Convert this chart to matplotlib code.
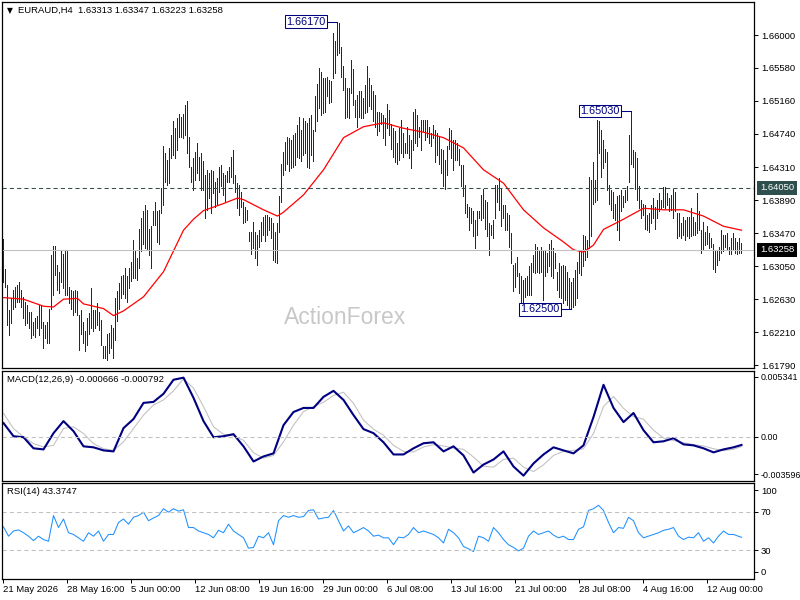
import matplotlib
matplotlib.use("Agg")
import matplotlib.pyplot as plt
import numpy as np
from matplotlib.transforms import blended_transform_factory

plt.rcParams["font.family"] = ["Liberation Sans", "DejaVu Sans"]

# H4 bars, high / low (oldest first)
highs = [
    1.6340, 1.6302, 1.6281, 1.6249, 1.6264, 1.6275, 1.6279, 1.6281, 1.6285, 1.6275,
    1.6266, 1.6260, 1.6256, 1.6247, 1.6247, 1.6234, 1.6239, 1.6241, 1.6256, 1.6256,
    1.6234, 1.6230, 1.6234, 1.6251, 1.6319, 1.6331, 1.6331, 1.6307, 1.6298, 1.6324,
    1.6320, 1.6326, 1.6324, 1.6279, 1.6275, 1.6273, 1.6275, 1.6273, 1.6243, 1.6249,
    1.6234, 1.6222, 1.6239, 1.6245, 1.6277, 1.6249, 1.6249, 1.6258, 1.6247, 1.6237,
    1.6203, 1.6203, 1.6218, 1.6220, 1.6230, 1.6226, 1.6264, 1.6273, 1.6283, 1.6292,
    1.6294, 1.6303, 1.6292, 1.6303, 1.6311, 1.6339, 1.6324, 1.6315, 1.6353, 1.6366,
    1.6375, 1.6383, 1.6377, 1.6353, 1.6356, 1.6375, 1.6387, 1.6375, 1.6377, 1.6405,
    1.6458, 1.6449, 1.6441, 1.6456, 1.6473, 1.6490, 1.6481, 1.6494, 1.6499, 1.6496,
    1.6499, 1.6511, 1.6516, 1.6470, 1.6432, 1.6443, 1.6451, 1.6462, 1.6445, 1.6449,
    1.6439, 1.6421, 1.6428, 1.6424, 1.6428, 1.6426, 1.6413, 1.6417, 1.6432, 1.6434,
    1.6424, 1.6421, 1.6426, 1.6432, 1.6445, 1.6453, 1.6421, 1.6411, 1.6409, 1.6400,
    1.6387, 1.6381, 1.6377, 1.6349, 1.6349, 1.6362, 1.6349, 1.6345, 1.6351, 1.6362,
    1.6368, 1.6371, 1.6371, 1.6368, 1.6366, 1.6360, 1.6349, 1.6360, 1.6394, 1.6436,
    1.6451, 1.6464, 1.6470, 1.6468, 1.6466, 1.6473, 1.6475, 1.6485, 1.6496, 1.6479,
    1.6494, 1.6490, 1.6488, 1.6494, 1.6498, 1.6479, 1.6522, 1.6538, 1.6558, 1.6553,
    1.6545, 1.6545, 1.6547, 1.6543, 1.6541, 1.6602, 1.6592, 1.6617, 1.6615, 1.6585,
    1.6560, 1.6545, 1.6532, 1.6532, 1.6568, 1.6556, 1.6517, 1.6524, 1.6528, 1.6528,
    1.6519, 1.6536, 1.6560, 1.6545, 1.6536, 1.6528, 1.6524, 1.6502, 1.6502, 1.6500,
    1.6498, 1.6494, 1.6512, 1.6504, 1.6487, 1.6481, 1.6477, 1.6462, 1.6481, 1.6492,
    1.6475, 1.6462, 1.6483, 1.6472, 1.6466, 1.6502, 1.6506, 1.6498, 1.6483, 1.6492,
    1.6492, 1.6492, 1.6492, 1.6483, 1.6475, 1.6485, 1.6479, 1.6475, 1.6470, 1.6455,
    1.6453, 1.6441, 1.6458, 1.6481, 1.6479, 1.6466, 1.6466, 1.6462, 1.6455, 1.6434,
    1.6434, 1.6409, 1.6385, 1.6381, 1.6379, 1.6375, 1.6364, 1.6375, 1.6375, 1.6396,
    1.6404, 1.6390, 1.6387, 1.6360, 1.6358, 1.6364, 1.6409, 1.6409, 1.6417, 1.6404,
    1.6383, 1.6383, 1.6373, 1.6370, 1.6347, 1.6307, 1.6309, 1.6317, 1.6296, 1.6292,
    1.6288, 1.6290, 1.6292, 1.6305, 1.6309, 1.6319, 1.6334, 1.6330, 1.6324, 1.6330,
    1.6324, 1.6324, 1.6322, 1.6334, 1.6339, 1.6328, 1.6322, 1.6298, 1.6309, 1.6305,
    1.6307, 1.6305, 1.6298, 1.6290, 1.6285, 1.6290, 1.6300, 1.6311, 1.6324, 1.6326,
    1.6345, 1.6343, 1.6339, 1.6419, 1.6415, 1.6438, 1.6415, 1.6492, 1.6490, 1.6479,
    1.6466, 1.6455, 1.6451, 1.6409, 1.6402, 1.6400, 1.6385, 1.6394, 1.6396, 1.6402,
    1.6394, 1.6402, 1.6407, 1.6472, 1.6503, 1.6453, 1.6451, 1.6443, 1.6407, 1.6390,
    1.6385, 1.6383, 1.6371, 1.6373, 1.6383, 1.6392, 1.6381, 1.6390, 1.6398, 1.6390,
    1.6406, 1.6406, 1.6398, 1.6392, 1.6396, 1.6403, 1.6400, 1.6373, 1.6373, 1.6360,
    1.6368, 1.6364, 1.6368, 1.6368, 1.6379, 1.6368, 1.6362, 1.6398, 1.6375, 1.6351,
    1.6362, 1.6349, 1.6356, 1.6347, 1.6341, 1.6334, 1.6326, 1.6324, 1.6330, 1.6351,
    1.6345, 1.6345, 1.6347, 1.6330, 1.6341, 1.6347, 1.6341, 1.6336, 1.6341, 1.6335,
]
lows = [
    1.6285, 1.6279, 1.6230, 1.6217, 1.6232, 1.6251, 1.6253, 1.6260, 1.6260, 1.6253,
    1.6239, 1.6230, 1.6232, 1.6226, 1.6213, 1.6217, 1.6215, 1.6226, 1.6217, 1.6226,
    1.6201, 1.6213, 1.6207, 1.6207, 1.6251, 1.6268, 1.6294, 1.6275, 1.6271, 1.6285,
    1.6277, 1.6268, 1.6268, 1.6258, 1.6251, 1.6243, 1.6247, 1.6243, 1.6198, 1.6219,
    1.6207, 1.6197, 1.6205, 1.6219, 1.6226, 1.6223, 1.6226, 1.6230, 1.6224, 1.6205,
    1.6188, 1.6188, 1.6186, 1.6194, 1.6201, 1.6188, 1.6211, 1.6235, 1.6251, 1.6264,
    1.6269, 1.6264, 1.6260, 1.6277, 1.6286, 1.6290, 1.6290, 1.6288, 1.6303, 1.6324,
    1.6334, 1.6328, 1.6326, 1.6319, 1.6303, 1.6358, 1.6358, 1.6336, 1.6334, 1.6373,
    1.6383, 1.6413, 1.6409, 1.6411, 1.6443, 1.6447, 1.6443, 1.6453, 1.6470, 1.6470,
    1.6468, 1.6473, 1.6449, 1.6432, 1.6413, 1.6402, 1.6415, 1.6424, 1.6415, 1.6402,
    1.6402, 1.6366, 1.6377, 1.6392, 1.6373, 1.6398, 1.6381, 1.6385, 1.6400, 1.6407,
    1.6396, 1.6388, 1.6413, 1.6413, 1.6419, 1.6411, 1.6400, 1.6379, 1.6371, 1.6381,
    1.6360, 1.6362, 1.6364, 1.6337, 1.6320, 1.6328, 1.6315, 1.6307, 1.6330, 1.6337,
    1.6345, 1.6337, 1.6345, 1.6351, 1.6341, 1.6313, 1.6311, 1.6309, 1.6349, 1.6387,
    1.6422, 1.6428, 1.6436, 1.6426, 1.6430, 1.6432, 1.6434, 1.6445, 1.6443, 1.6439,
    1.6447, 1.6449, 1.6432, 1.6430, 1.6447, 1.6439, 1.6477, 1.6490, 1.6507, 1.6498,
    1.6500, 1.6502, 1.6522, 1.6513, 1.6515, 1.6545, 1.6551, 1.6575, 1.6577, 1.6547,
    1.6530, 1.6494, 1.6496, 1.6494, 1.6526, 1.6511, 1.6496, 1.6483, 1.6496, 1.6494,
    1.6494, 1.6500, 1.6502, 1.6509, 1.6505, 1.6490, 1.6483, 1.6472, 1.6477, 1.6487,
    1.6468, 1.6460, 1.6481, 1.6472, 1.6455, 1.6445, 1.6438, 1.6436, 1.6441, 1.6449,
    1.6445, 1.6449, 1.6449, 1.6443, 1.6430, 1.6453, 1.6462, 1.6458, 1.6470, 1.6453,
    1.6477, 1.6466, 1.6470, 1.6462, 1.6458, 1.6468, 1.6438, 1.6447, 1.6436, 1.6424,
    1.6407, 1.6404, 1.6421, 1.6455, 1.6443, 1.6428, 1.6441, 1.6441, 1.6434, 1.6407,
    1.6394, 1.6373, 1.6368, 1.6351, 1.6360, 1.6343, 1.6328, 1.6345, 1.6366, 1.6364,
    1.6366, 1.6353, 1.6343, 1.6319, 1.6345, 1.6341, 1.6366, 1.6387, 1.6377, 1.6356,
    1.6366, 1.6351, 1.6351, 1.6330, 1.6309, 1.6273, 1.6279, 1.6292, 1.6271, 1.6258,
    1.6256, 1.6266, 1.6268, 1.6268, 1.6268, 1.6298, 1.6296, 1.6298, 1.6296, 1.6298,
    1.6262, 1.6292, 1.6298, 1.6305, 1.6292, 1.6290, 1.6303, 1.6275, 1.6266, 1.6264,
    1.6258, 1.6262, 1.6255, 1.6252, 1.6250, 1.6253, 1.6255, 1.6265, 1.6296, 1.6294,
    1.6305, 1.6313, 1.6317, 1.6328, 1.6343, 1.6385, 1.6387, 1.6390, 1.6449, 1.6419,
    1.6430, 1.6438, 1.6402, 1.6385, 1.6377, 1.6366, 1.6364, 1.6351, 1.6339, 1.6375,
    1.6381, 1.6387, 1.6390, 1.6413, 1.6436, 1.6432, 1.6404, 1.6390, 1.6379, 1.6366,
    1.6371, 1.6353, 1.6351, 1.6349, 1.6360, 1.6366, 1.6353, 1.6366, 1.6375, 1.6379,
    1.6381, 1.6379, 1.6383, 1.6375, 1.6377, 1.6366, 1.6375, 1.6341, 1.6343, 1.6341,
    1.6345, 1.6339, 1.6343, 1.6341, 1.6343, 1.6345, 1.6345, 1.6347, 1.6351, 1.6322,
    1.6326, 1.6332, 1.6334, 1.6328, 1.6330, 1.6302, 1.6298, 1.6307, 1.6313, 1.6322,
    1.6324, 1.6330, 1.6326, 1.6320, 1.6320, 1.6326, 1.6322, 1.6320, 1.6322, 1.6322,
]

# red moving average, sampled at these bar numbers
ma_idx = [0, 10, 20, 25, 30, 37, 40, 45, 50, 55, 60, 70, 80, 90, 95, 100, 110, 117,
          120, 130, 137, 140, 150, 160, 170, 180, 190, 200, 210, 220, 230, 240, 250,
          260, 270, 280, 285, 290, 295, 300, 310, 320, 330, 340, 350, 360, 369]
ma_vals = [1.6265, 1.6263, 1.6254, 1.6253, 1.6263, 1.6264, 1.6257, 1.6254, 1.6251,
           1.6242, 1.6248, 1.6266, 1.6298, 1.6351, 1.6365, 1.6376, 1.6385, 1.6392,
           1.6390, 1.6377, 1.6369, 1.6374, 1.6396, 1.6428, 1.6469, 1.6483, 1.6488,
           1.6481, 1.6476, 1.6469, 1.6456, 1.6428, 1.6411, 1.6377, 1.6354, 1.6336,
           1.6326, 1.6323, 1.6332, 1.6352, 1.6365, 1.6379, 1.6377, 1.6377, 1.6369,
           1.6356, 1.6351]

# MACD(12,26,9), every 5 bars plus the last bar
macd_main = [
    0.00111, 0.00004, -0.00004, -0.00094, -0.00103, 0.00029, 0.00127, 0.00045,
    -0.00078, -0.00086, -0.00111, -0.00119, 0.00070, 0.00144, 0.00275, 0.00283,
    0.00349, 0.00463, 0.00480, 0.00316, 0.00127, -0.00004, 0.00004, 0.00021,
    -0.00078, -0.00201, -0.00160, -0.00135, 0.00094, 0.00201, 0.00234, 0.00234,
    0.00324, 0.00373, 0.00299, 0.00176, 0.00062, 0.00029, -0.00045, -0.00144,
    -0.00144, -0.00094, -0.00053, -0.00045, -0.00119, -0.00078, -0.00152, -0.00291,
    -0.00226, -0.00185, -0.00119, -0.00242, -0.00316, -0.00217, -0.00144, -0.00086,
    -0.00111, -0.00135, -0.00070, 0.00160, 0.00422, 0.00234, 0.00119, 0.00193,
    0.00053, -0.00045, -0.00037, -0.00012, -0.00062, -0.00070, -0.00094, -0.00127,
    -0.00103, -0.00086, -0.000666,
]
macd_signal = [
    0.00190, 0.00067, -0.00001, -0.00056, -0.00083, -0.00070, 0.00067, 0.00081,
    0.00026, -0.00056, -0.00097, -0.00111, -0.00042, 0.00067, 0.00176, 0.00258,
    0.00299, 0.00373, 0.00471, 0.00395, 0.00245, 0.00081, 0.00020, 0.00007,
    -0.00029, -0.00130, -0.00174, -0.00152, -0.00042, 0.00094, 0.00204, 0.00245,
    0.00280, 0.00335, 0.00362, 0.00272, 0.00135, 0.00061, 0.00012, -0.00070,
    -0.00119, -0.00124, -0.00083, -0.00064, -0.00075, -0.00092, -0.00102, -0.00165,
    -0.00239, -0.00247, -0.00184, -0.00174, -0.00247, -0.00283, -0.00228, -0.00152,
    -0.00119, -0.00111, -0.00097, 0.00026, 0.00245, 0.00327, 0.00231, 0.00163,
    0.00143, 0.00053, -0.00010, -0.00031, -0.00048, -0.00064, -0.00075, -0.00097,
    -0.00113, -0.00102, -0.000792,
]

# RSI(14), every 2.5 bars plus the last bar
rsi_vals = [
    54.3, 44.6, 50.0, 51.1, 48.2, 44.6, 40.0, 44.6, 41.1, 39.3,
    66.1, 53.6, 62.5, 48.2, 46.4, 42.9, 39.3, 48.2, 44.6, 50.0,
    39.3, 46.4, 46.4, 58.9, 62.5, 57.1, 64.3, 66.1, 69.6, 60.7,
    63.6, 66.1, 73.2, 69.6, 73.2, 70.7, 72.1, 53.6, 53.6, 50.0,
    48.2, 46.4, 42.9, 50.7, 48.2, 57.1, 50.0, 46.4, 42.9, 32.1,
    32.9, 44.6, 42.9, 48.2, 35.7, 60.7, 66.1, 64.3, 66.1, 64.3,
    65.0, 71.4, 72.1, 62.5, 63.6, 64.3, 71.4, 60.7, 50.0, 55.3,
    48.2, 50.7, 53.6, 50.0, 44.6, 45.7, 42.9, 42.9, 35.7, 43.6,
    42.9, 46.4, 53.6, 48.2, 50.0, 48.2, 46.4, 42.9, 37.5, 51.8,
    48.2, 42.9, 33.9, 31.4, 28.6, 44.6, 42.9, 39.3, 53.6, 48.2,
    41.1, 35.7, 32.9, 29.3, 32.1, 44.6, 50.0, 46.4, 48.2, 50.0,
    45.7, 42.9, 44.6, 41.1, 41.1, 51.8, 54.3, 71.4, 73.2, 76.8,
    71.4, 58.9, 48.2, 53.6, 52.8, 64.3, 60.7, 48.2, 42.9, 44.6,
    46.4, 48.2, 50.7, 51.8, 53.6, 44.6, 41.1, 43.6, 42.9, 48.2,
    39.3, 42.9, 37.5, 44.6, 50.0, 46.4, 46.4, 44.6, 43.4,
]

price_ticks = [1.66000, 1.65580, 1.65160, 1.64740, 1.64310, 1.63890,
               1.63470, 1.63050, 1.62630, 1.62210, 1.61790]
date_labels = ["21 May 2026", "28 May 16:00", "5 Jun 00:00", "12 Jun 08:00",
               "19 Jun 16:00", "29 Jun 00:00", "6 Jul 08:00", "13 Jul 16:00",
               "21 Jul 00:00", "28 Jul 08:00", "4 Aug 16:00", "12 Aug 00:00"]
swing_idx = [167, 314, 284]
swing_px = [1.66170, 1.65030, 1.62500]
level_price = 1.64050
last_price = 1.63258

assert len(highs) == len(lows)
assert len(ma_idx) == len(ma_vals)

BAR = "#0B304E"
FS = 6.8
W, H = 800, 600


def box(top, bottom):
    return [2 / W, 1 - bottom / H, 752 / W, (bottom - top) / H]


def fxy(x, y):
    return x / W, 1 - y / H


fig = plt.figure(figsize=(8, 6), dpi=100)
ax_p = fig.add_axes(box(2, 368))
ax_m = fig.add_axes(box(371, 481))
ax_r = fig.add_axes(box(483, 579))

xlim = (-0.75, 375.25)
for ax in (ax_p, ax_m, ax_r):
    ax.set_xlim(*xlim)
    for s in ax.spines.values():
        s.set_linewidth(0.9)
        s.set_color("black")
    ax.yaxis.tick_right()
    ax.tick_params(axis="y", length=3, width=0.7, labelsize=FS, pad=2)

# ---- price panel ----
x = np.arange(len(highs))
ax_p.vlines(x, lows, highs, colors=BAR, linewidth=0.68, antialiased=False)
ax_p.plot(ma_idx, ma_vals, color="#FF0000", lw=0.9)
ax_p.axhline(level_price, color="#2F4F4F", lw=0.75, ls=(0, (4, 3)))
ax_p.axhline(last_price, color="#C0C0C0", lw=0.75)
ax_p.set_ylim(1.61752, 1.66421)
ax_p.set_xticks([])
ax_p.set_yticks(price_ticks)
ax_p.set_yticklabels([f"{v:.5f}" for v in price_ticks])

for i, p in zip(swing_idx, swing_px):
    ax_p.plot([i - 5.5, i], [p, p], color="#000080", lw=0.75)
    ax_p.text(i - 6.1, p, f"{p:.5f}", ha="right", va="center", fontsize=7.8,
              color="#000080",
              bbox=dict(boxstyle="square,pad=0.12", fc="white", ec="#000080", lw=0.75))

tr = blended_transform_factory(ax_p.transAxes, ax_p.transData)
ax_p.text(1.008, level_price, f"{level_price:.5f}", transform=tr, ha="left",
          va="center", fontsize=FS, color="white", clip_on=False,
          bbox=dict(boxstyle="square,pad=0.3", fc="#2F4F4F", ec="none"))
ax_p.text(1.008, last_price, f"{last_price:.5f}", transform=tr, ha="left",
          va="center", fontsize=FS, color="white", clip_on=False,
          bbox=dict(boxstyle="square,pad=0.3", fc="black", ec="none"))

ax_p.text(*fxy(345, 317), "ActionForex", transform=fig.transFigure, fontsize=16.5,
          color="#C8C8C8", ha="center", va="center", zorder=0)

# ---- MACD panel ----
mx = list(range(0, 366, 5)) + [369]
ax_m.plot(mx, macd_signal, color="#C0C0C0", lw=0.75)
ax_m.plot(mx, macd_main, color="#000080", lw=1.5)
ax_m.axhline(0, color="#C0C0C0", lw=0.75, ls=(0, (4, 3)))
ax_m.set_ylim(-0.003596, 0.005341)
ax_m.set_xticks([])
ax_m.set_yticks([0.004854, 0.0, -0.003028])
ax_m.set_yticklabels(["0.005341", "0.00", "-0.003596"])
ax_m.tick_params(axis="y", labelsize=6.4, pad=1.5)

# ---- RSI panel ----
rx = list(np.arange(0, 370, 2.5)) + [369]
ax_r.plot(rx, rsi_vals, color="#1E90FF", lw=0.75)
for lvl in (70, 30):
    ax_r.axhline(lvl, color="#C0C0C0", lw=0.75, ls=(0, (4, 3)))
ax_r.set_ylim(0, 100)
ax_r.set_yticks([92.7, 70, 30, 7.3])
ax_r.set_yticklabels(["100", "70", "30", "0"])
ax_r.set_xticks(range(0, 353, 32))
ax_r.set_xticklabels(date_labels)
ax_r.tick_params(axis="x", length=3, width=0.7, labelsize=FS, pad=1.5)
for lab in ax_r.get_xticklabels():
    lab.set_horizontalalignment("left")

# ---- headers ----
fig.text(*fxy(6.5, 10.8), "\u25bc", fontsize=5.5, family="DejaVu Sans", va="center")
fig.text(*fxy(18, 10.8), "EURAUD,H4  1.63313 1.63347 1.63223 1.63258",
         fontsize=FS, va="center")
fig.text(*fxy(7, 380), "MACD(12,26,9) -0.000666 -0.000792", fontsize=FS, va="center")
fig.text(*fxy(7, 492), "RSI(14) 43.3747", fontsize=FS, va="center")

fig.savefig("out.png", dpi=100)
